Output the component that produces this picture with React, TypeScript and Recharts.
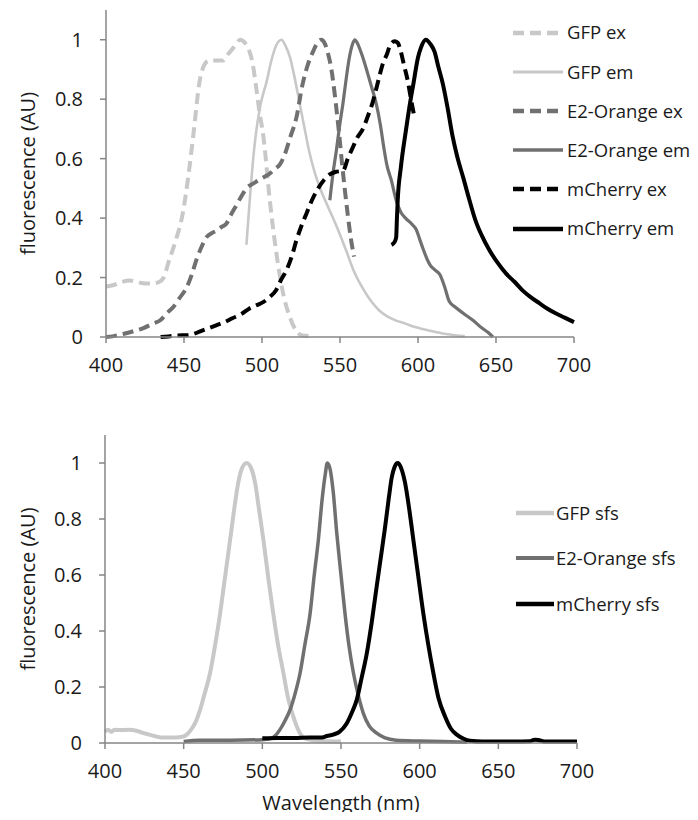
import React from "react";
import { LineChart, Line, XAxis, YAxis, Legend, Label } from "recharts";

// wavelength ticks / fluorescence ticks
const xTicks = [400, 450, 500, 550, 600, 650, 700];
const yTicks = [0, 0.2, 0.4, 0.6, 0.8, 1];

// top panel: excitation / emission spectra
const gfpExNm = [400, 405, 410, 415, 420, 425, 430, 434, 437, 440, 445, 449, 453, 456, 460, 463, 466, 470, 475, 478, 482, 486, 489, 492, 494, 496, 498, 501, 505, 509, 513, 518, 522, 526, 532];
const gfpExVal = [0.17, 0.175, 0.185, 0.19, 0.185, 0.18, 0.18, 0.185, 0.2, 0.25, 0.33, 0.41, 0.55, 0.68, 0.86, 0.915, 0.93, 0.93, 0.93, 0.95, 0.975, 1.0, 0.99, 0.96, 0.92, 0.85, 0.77, 0.67, 0.46, 0.29, 0.16, 0.065, 0.02, 0.005, 0.003];

const gfpEmNm = [490, 492, 494, 496, 499, 503, 506, 509, 512.5, 515, 518, 521, 524, 527, 530, 534, 538, 543, 548, 554, 559, 565, 570, 575, 580, 586, 592, 597, 602, 607, 613, 618, 624, 630];
const gfpEmVal = [0.31, 0.45, 0.58, 0.68, 0.78, 0.86, 0.93, 0.98, 1.0, 0.98, 0.94, 0.87, 0.79, 0.71, 0.63, 0.55, 0.49, 0.43, 0.37, 0.29, 0.22, 0.16, 0.12, 0.09, 0.07, 0.055, 0.045, 0.035, 0.028, 0.022, 0.015, 0.01, 0.006, 0.003];

const e2ExNm = [400, 405, 411, 418, 424, 430, 435, 439, 443, 447, 452, 455, 458, 461, 464.5, 468, 471, 474, 477, 480, 484, 487, 490, 494, 498.6, 502, 505, 508, 511.4, 515, 518, 522, 526, 529, 532.7, 535, 538, 540, 542, 544.5, 547, 549.5, 551, 553, 555, 557, 559];
const e2ExVal = [0.0, 0.003, 0.01, 0.02, 0.03, 0.045, 0.057, 0.08, 0.1, 0.13, 0.17, 0.21, 0.26, 0.3, 0.336, 0.35, 0.358, 0.37, 0.38, 0.41, 0.447, 0.475, 0.5, 0.515, 0.53, 0.54, 0.55, 0.565, 0.58, 0.62, 0.67, 0.737, 0.85, 0.91, 0.96, 0.985, 1.0, 0.99, 0.96, 0.9, 0.8, 0.68, 0.6, 0.5, 0.41, 0.33, 0.27];

const e2EmNm = [543.5, 545.5, 547.6, 550, 552, 554, 556, 558, 559.5, 561, 564, 567, 570, 573, 576, 578, 580, 583, 586, 589, 592, 596, 599, 601, 603, 606, 608, 611, 614, 617, 620, 624, 629, 635, 641, 645, 648];
const e2EmVal = [0.46, 0.55, 0.625, 0.72, 0.79, 0.87, 0.94, 0.985, 1.0, 0.99, 0.95, 0.9, 0.845, 0.79, 0.71, 0.64, 0.58, 0.525, 0.46, 0.42, 0.4, 0.38, 0.36, 0.33, 0.3, 0.26, 0.24, 0.225, 0.21, 0.17, 0.12, 0.1, 0.08, 0.057, 0.03, 0.015, 0.0];

const mchExNm = [435, 440, 446, 452, 456, 460, 465, 471, 476, 481, 487, 492, 497, 501, 505, 509, 512, 515.6, 519, 522, 525, 528.4, 532, 536, 540, 543.4, 547, 552, 555, 558.4, 561, 564.7, 568, 571, 573.5, 575.4, 577.5, 580, 582, 585, 587, 589, 591, 593.5, 595.5, 597.8];
const mchExVal = [0.0, 0.002, 0.005, 0.006, 0.01, 0.018, 0.028, 0.04, 0.05, 0.063, 0.078, 0.096, 0.108, 0.118, 0.135, 0.157, 0.19, 0.224, 0.27, 0.324, 0.37, 0.414, 0.46, 0.5, 0.53, 0.547, 0.555, 0.56, 0.6, 0.64, 0.67, 0.7, 0.745, 0.79, 0.84, 0.88, 0.92, 0.95, 0.98, 0.995, 0.99, 0.96, 0.915, 0.86, 0.8, 0.737];

const mchEmNm = [583, 585, 586, 586.5, 587, 589, 592.4, 595, 597, 600, 602, 605, 608, 610.6, 613, 616, 619, 622, 625, 629, 633, 637, 641, 646, 651, 656.5, 662, 667, 672, 678, 683, 688.5, 694, 700];
const mchEmVal = [0.31, 0.32, 0.335, 0.4, 0.46, 0.57, 0.7, 0.79, 0.85, 0.94, 0.975, 1.0, 0.985, 0.96, 0.91, 0.85, 0.77, 0.68, 0.61, 0.536, 0.46, 0.39, 0.34, 0.29, 0.25, 0.213, 0.185, 0.157, 0.135, 0.113, 0.095, 0.079, 0.065, 0.05];

// bottom panel: sfs spectra
const gfpSfsNm = [400, 402, 404, 406, 410, 415, 420, 424, 428, 432, 436, 440, 445, 449, 452, 455, 458, 460.4, 463, 466.8, 470, 473.1, 476, 479.5, 482, 484.7, 487, 490, 493, 495.4, 498, 500.7, 504, 507, 510, 513.4, 516, 519.7, 523, 526, 530, 535, 542, 550];
const gfpSfsVal = [0.04, 0.047, 0.04, 0.047, 0.046, 0.047, 0.044, 0.036, 0.03, 0.024, 0.02, 0.02, 0.02, 0.022, 0.03, 0.05, 0.08, 0.118, 0.17, 0.25, 0.35, 0.46, 0.58, 0.725, 0.83, 0.93, 0.98, 1.0, 0.98, 0.93, 0.83, 0.725, 0.58, 0.46, 0.35, 0.25, 0.17, 0.094, 0.045, 0.02, 0.012, 0.008, 0.006, 0.005];

const e2SfsNm = [450, 460, 480, 500, 505, 508, 511, 514, 517.6, 521, 524, 527, 530.3, 533, 535.6, 538, 540, 541.3, 543, 545, 547.3, 550, 552.6, 555, 557.9, 561, 564.2, 568, 572.7, 578, 585, 600, 615, 630];
const e2SfsVal = [0.005, 0.01, 0.01, 0.012, 0.015, 0.025, 0.046, 0.075, 0.118, 0.18, 0.25, 0.35, 0.46, 0.6, 0.725, 0.87, 0.96, 1.0, 0.98, 0.9, 0.75, 0.6, 0.46, 0.35, 0.25, 0.17, 0.106, 0.06, 0.035, 0.018, 0.01, 0.007, 0.005, 0.003];

const mchSfsNm = [500, 510, 520, 530, 538, 541, 545, 549, 553.6, 557, 560, 563, 566.4, 569.5, 572.7, 575.5, 578, 580.5, 582.3, 584, 586, 588, 590.7, 593.5, 596, 599, 602.4, 605.5, 608.7, 612, 616.2, 620, 623.6, 628, 632, 640, 660, 670, 673, 676, 680, 700];
const mchSfsVal = [0.017, 0.018, 0.018, 0.02, 0.02, 0.025, 0.03, 0.04, 0.07, 0.11, 0.154, 0.23, 0.32, 0.43, 0.56, 0.67, 0.77, 0.88, 0.95, 0.985, 1.0, 0.985, 0.93, 0.83, 0.725, 0.6, 0.46, 0.35, 0.25, 0.16, 0.094, 0.05, 0.03, 0.015, 0.008, 0.005, 0.005, 0.006, 0.012, 0.01, 0.005, 0.005];

const toPoints = (nm: number[], val: number[]) => nm.map((x, i) => ({ x, y: val[i] }));

const LIGHT = "#c8c8c8";
const MID = "#707070";
const DARK = "#000000";
const AXIS = "#868686";
const TEXT = "#1a1a1a";
const FONT = "'Open Sans', sans-serif";
const DASH = "11 6";

interface Entry {
  name: string;
  color: string;
  dashed: boolean;
  width: number;
}
type Series = Entry & { pts: { x: number; y: number }[] };

const topSeries: Series[] = [
  { name: "GFP ex", color: LIGHT, dashed: true, width: 4, pts: toPoints(gfpExNm, gfpExVal) },
  { name: "GFP em", color: LIGHT, dashed: false, width: 2.6, pts: toPoints(gfpEmNm, gfpEmVal) },
  { name: "E2-Orange ex", color: MID, dashed: true, width: 4, pts: toPoints(e2ExNm, e2ExVal) },
  { name: "E2-Orange em", color: MID, dashed: false, width: 3.2, pts: toPoints(e2EmNm, e2EmVal) },
  { name: "mCherry ex", color: DARK, dashed: true, width: 4, pts: toPoints(mchExNm, mchExVal) },
  { name: "mCherry em", color: DARK, dashed: false, width: 4, pts: toPoints(mchEmNm, mchEmVal) },
];

const bottomSeries: Series[] = [
  { name: "GFP sfs", color: LIGHT, dashed: false, width: 4, pts: toPoints(gfpSfsNm, gfpSfsVal) },
  { name: "E2-Orange sfs", color: MID, dashed: false, width: 3.5, pts: toPoints(e2SfsNm, e2SfsVal) },
  { name: "mCherry sfs", color: DARK, dashed: false, width: 4, pts: toPoints(mchSfsNm, mchSfsVal) },
];

const SpectraLegend = ({ items, rowHeight, sample, textGap }: { items: Entry[]; rowHeight: number; sample: number; textGap: number }) => (
  <div style={{ fontFamily: FONT, fontSize: 18.5, color: TEXT }}>
    {items.map((it) => (
      <div key={it.name} style={{ height: rowHeight, display: "flex", alignItems: "center" }}>
        <svg width={sample} height={8} style={{ display: "block", flex: "none" }}>
          <line
            x1={0}
            y1={4}
            x2={it.dashed ? sample - 4 : sample}
            y2={4}
            stroke={it.color}
            strokeWidth={it.width + 0.5}
            strokeDasharray={it.dashed ? DASH : undefined}
          />
        </svg>
        <span style={{ marginLeft: textGap, whiteSpace: "nowrap", lineHeight: 1 }}>{it.name}</span>
      </div>
    ))}
  </div>
);

const XTick = ({ x, y, payload }: any) => (
  <text x={x} y={y} dy={14.2} textAnchor="middle" fill={TEXT} fontSize={20} fontFamily={FONT}>
    {payload.value}
  </text>
);

const YTick = ({ x, y, payload }: any) => (
  <text x={x} y={y} dy={7.1} textAnchor="end" fill={TEXT} fontSize={20} fontFamily={FONT}>
    {payload.value}
  </text>
);

function Panel({
  series,
  height,
  margin,
  legendTop,
  legendLeft,
  rowHeight,
  sample,
  textGap,
  xLabel,
}: {
  series: Series[];
  height: number;
  margin: { top: number; right: number; bottom: number; left: number };
  legendTop: number;
  legendLeft: number;
  rowHeight: number;
  sample: number;
  textGap: number;
  xLabel?: string;
}) {
  return (
    <LineChart width={698} height={height} margin={margin} style={{ fontFamily: FONT }}>
      <XAxis
        type="number"
        dataKey="x"
        domain={[400, 700]}
        ticks={xTicks}
        tick={<XTick />}
        tickSize={6}
        tickMargin={15}
        height={30}
        axisLine={{ stroke: AXIS, strokeWidth: 1.5 }}
        tickLine={{ stroke: AXIS, strokeWidth: 1.5 }}
      >
        {xLabel && (
          <Label
            content={({ viewBox }: any) => (
              <text
                x={viewBox.x + viewBox.width / 2}
                y={viewBox.y + 67}
                textAnchor="middle"
                fill={TEXT}
                fontSize={20}
                fontFamily={FONT}
              >
                {xLabel}
              </text>
            )}
          />
        )}
      </XAxis>
      <YAxis
        type="number"
        dataKey="y"
        domain={[0, 1.1]}
        ticks={yTicks}
        tick={<YTick />}
        tickSize={6}
        tickMargin={17}
        width={60}
        axisLine={{ stroke: AXIS, strokeWidth: 1.5 }}
        tickLine={{ stroke: AXIS, strokeWidth: 1.5 }}
      >
        <Label
          content={({ viewBox }: any) => {
            const cx = 28;
            const cy = viewBox.y + viewBox.height / 2;
            return (
              <text
                x={cx}
                y={cy}
                dy={7}
                transform={`rotate(-90, ${cx}, ${cy})`}
                textAnchor="middle"
                fill={TEXT}
                fontSize={20}
                fontFamily={FONT}
              >
                fluorescence (AU)
              </text>
            );
          }}
        />
      </YAxis>
      <Legend
        layout="vertical"
        align="center"
        verticalAlign="middle"
        wrapperStyle={{ top: legendTop, left: legendLeft, width: 185, height: "auto", bottom: "auto", right: "auto" }}
        content={() => <SpectraLegend items={series} rowHeight={rowHeight} sample={sample} textGap={textGap} />}
      />
      {series.map((s) => (
        <Line
          key={s.name}
          data={s.pts}
          dataKey="y"
          name={s.name}
          type="monotone"
          stroke={s.color}
          strokeWidth={s.width}
          strokeDasharray={s.dashed ? DASH : undefined}
          dot={false}
          activeDot={false}
          isAnimationActive={false}
        />
      ))}
    </LineChart>
  );
}

export default function App() {
  return (
    <div style={{ margin: -8, width: 698, height: 820, background: "#fff", position: "relative" }}>
      <Panel
        series={topSeries}
        height={390}
        margin={{ top: 10, right: 124, bottom: 23, left: 46 }}
        legendTop={13}
        legendLeft={513}
        rowHeight={39.2}
        sample={50}
        textGap={4}
      />
      <div style={{ position: "absolute", top: 400, left: 0 }}>
        <Panel
          series={bottomSeries}
          height={420}
          margin={{ top: 35, right: 121, bottom: 47, left: 45 }}
          legendTop={90}
          legendLeft={516}
          rowHeight={45.5}
          sample={38}
          textGap={2}
          xLabel="Wavelength (nm)"
        />
      </div>
    </div>
  );
}
